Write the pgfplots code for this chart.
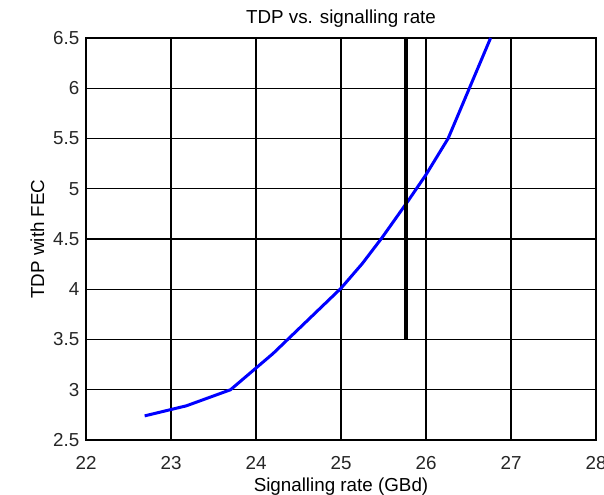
\documentclass[border=0pt]{standalone}
\usepackage{pgfplots}
\pgfplotsset{compat=1.18}
\usepackage{fontspec}
\setmainfont{Liberation Sans}
\begin{document}
\fontsize{9.4}{11}\selectfont
\begin{tikzpicture}
\begin{axis}[
  name=ax,
  width=255pt, height=201pt, scale only axis,
  xmin=22, xmax=28, ymin=2.5, ymax=6.5,
  xtick={22,23,...,28},
  ytick={2.5,3,...,6.5},
  yticklabels={2.5,3,3.5,4,4.5,5,5.5,6,6.5},
  grid=major,
  major grid style={black, line width=0.55pt},
  axis line style={black, line width=0.55pt},
  tick align=inside, major tick length=1.5pt,
  tick style={black, line width=0.55pt},
  /pgf/number format/assume math mode=true,
  ticklabel style={font=\fontsize{9.4}{11}\selectfont, text=black!85},
  xticklabel style={yshift=-5pt},
  title={TDP vs. signalling rate},
  title style={font=\fontsize{9.4}{11}\selectfont, yshift=-4pt},
  xlabel={Signalling rate (GBd)},
  ylabel={TDP with FEC},
  label style={font=\fontsize{9.4}{11}\selectfont},
  xlabel style={yshift=2.5pt},
  ylabel style={yshift=-2pt},
  clip=true,
]
\addplot[blue, line width=1.5pt] coordinates {
  (22.69,2.74) (23.18,2.84) (23.70,3.00) (24.20,3.36) (25.00,4.01)
  (25.25,4.255) (25.48,4.51) (25.79,4.88) (26.00,5.14) (26.26,5.50) (26.76,6.50)
};
\addplot[black, line width=2pt] coordinates {(25.765,3.5) (25.765,6.5)};
\end{axis}
\pgfresetboundingbox
\path (ax.south west)+(-43pt,-27pt) rectangle ([shift={(4pt,19pt)}]ax.north east);
\end{tikzpicture}
\end{document}
